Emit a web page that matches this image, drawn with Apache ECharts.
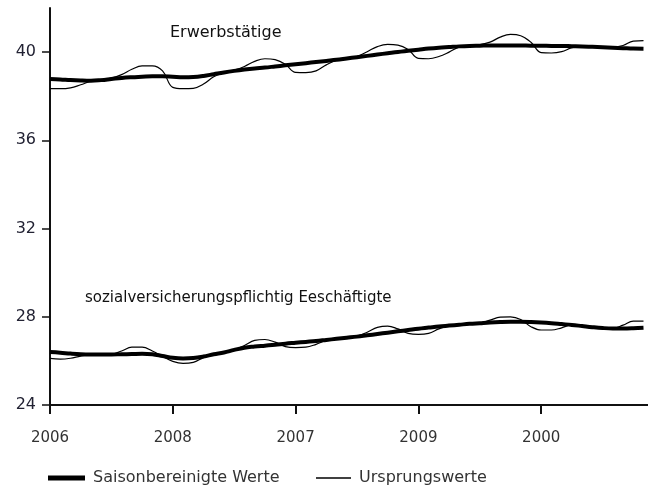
<!DOCTYPE html>
<html>
<head>
    <meta charset="utf-8">
    <title>Erwerbstätige</title>
    <script src="https://cdn.jsdelivr.net/npm/echarts@6/dist/echarts.min.js"></script>
    <style>
        body { margin: 0; background: #fff; }
    </style>
</head>
<body>
<div id="main" style="width: 648px;height:492px;"></div>
<script type="text/javascript">
    // tick labels as printed on the x axis (one per year)
    var yearLabels = ['2006', '2008', '2007', '2009', '2000'];
    var yTicks = [24, 28, 32, 36, 40];

    // monthly values, Erwerbstätige (Mio.)
    var erwSaison = [38.78, 38.76, 38.73, 38.71, 38.70, 38.73, 38.78, 38.83, 38.86, 38.88, 38.90, 38.90,
        38.88, 38.86, 38.87, 38.92, 39.00, 39.08, 39.15, 39.21, 39.26, 39.30, 39.35, 39.40,
        39.45, 39.50, 39.55, 39.60, 39.65, 39.71, 39.77, 39.83, 39.89, 39.95, 40.01, 40.06,
        40.11, 40.16, 40.20, 40.23, 40.26, 40.28, 40.29, 40.30, 40.30, 40.30, 40.30, 40.29,
        40.29, 40.28, 40.28, 40.27, 40.26, 40.24, 40.22, 40.20, 40.18, 40.16, 40.15];
    var erwUrsprung = [38.34, 38.34, 38.38, 38.52, 38.68, 38.76, 38.82, 38.98, 39.22, 39.38, 39.38, 39.15,
        38.40, 38.34, 38.36, 38.55, 38.88, 39.06, 39.18, 39.35, 39.58, 39.70, 39.66, 39.45,
        39.08, 39.07, 39.15, 39.42, 39.63, 39.72, 39.80, 40.02, 40.25, 40.35, 40.32, 40.12,
        39.72, 39.70, 39.80, 40.00, 40.24, 40.30, 40.34, 40.45, 40.68, 40.80, 40.74, 40.45,
        39.98, 39.96, 40.02, 40.20, 40.27, 40.26, 40.24, 40.24, 40.30, 40.50, 40.52];

    // monthly values, sozialversicherungspflichtig Beschäftigte (Mio.)
    var svbSaison = [26.40, 26.37, 26.33, 26.30, 26.29, 26.29, 26.29, 26.30, 26.31, 26.32, 26.30, 26.22,
        26.14, 26.11, 26.13, 26.20, 26.30, 26.38, 26.50, 26.60, 26.65, 26.69, 26.73, 26.78,
        26.82, 26.86, 26.90, 26.95, 27.00, 27.05, 27.10, 27.16, 27.22, 27.28, 27.34, 27.40,
        27.46, 27.51, 27.56, 27.60, 27.64, 27.68, 27.71, 27.74, 27.76, 27.77, 27.77, 27.76,
        27.74, 27.71, 27.67, 27.63, 27.58, 27.53, 27.49, 27.47, 27.47, 27.48, 27.50];
    var svbUrsprung = [26.11, 26.08, 26.12, 26.22, 26.28, 26.29, 26.30, 26.45, 26.62, 26.62, 26.45, 26.20,
        25.98, 25.89, 25.93, 26.15, 26.30, 26.38, 26.50, 26.70, 26.93, 26.97, 26.85, 26.65,
        26.60, 26.62, 26.75, 26.93, 27.00, 27.05, 27.12, 27.30, 27.52, 27.58, 27.45, 27.25,
        27.20, 27.25, 27.45, 27.60, 27.64, 27.68, 27.72, 27.85, 27.98, 28.00, 27.88, 27.55,
        27.40, 27.40, 27.50, 27.63, 27.58, 27.53, 27.49, 27.48, 27.62, 27.80, 27.80];

    // month index -> position in years on the x axis
    function monthly(values) {
        return values.map(function (v, i) {
            return [i / 12, v];
        });
    }

    var font = 'DejaVu Sans, Liberation Sans, sans-serif';

    function lineSeries(name, values, width) {
        return {
            name: name,
            type: 'line',
            data: monthly(values),
            smooth: 0.4,
            symbol: 'none',
            lineStyle: { color: '#000', width: width },
            itemStyle: { color: '#000' },
            emphasis: { disabled: true }
        };
    }

    var legendText = { fontSize: 16, fontFamily: font, color: '#333', padding: [0, 0, 0, 3] };

    var myChart = echarts.init(document.getElementById('main'), null, { renderer: 'canvas' });

    myChart.setOption({
        animation: false,
        backgroundColor: '#fff',
        grid: { left: 50, right: 0, top: 8, bottom: 87 },
        xAxis: {
            type: 'value',
            min: 0,
            max: 4.87,
            interval: 1,
            splitLine: { show: false },
            axisLine: { onZero: false, lineStyle: { color: '#111', width: 2 } },
            axisTick: { length: 9, lineStyle: { color: '#111', width: 2 } },
            axisLabel: {
                margin: 26,
                fontSize: 15,
                fontFamily: font,
                color: '#333',
                showMaxLabel: false,
                formatter: function (v) {
                    return yearLabels[Math.round(v)] || '';
                }
            }
        },
        yAxis: {
            type: 'value',
            min: 24,
            max: 42,
            interval: 4,
            splitLine: { show: false },
            axisLine: { show: true, lineStyle: { color: '#111', width: 2 } },
            axisTick: { show: true, length: 8, customValues: yTicks, lineStyle: { color: '#111', width: 1.5 } },
            axisLabel: {
                margin: 14,
                fontSize: 16,
                fontFamily: font,
                color: '#223',
                customValues: yTicks
            }
        },
        legend: [
            {
                top: 465,
                left: 43,
                icon: 'rect',
                itemWidth: 37,
                itemHeight: 5,
                textStyle: legendText,
                data: ['Saisonbereinigte Werte']
            },
            {
                top: 465,
                left: 311,
                icon: 'rect',
                itemWidth: 35,
                itemHeight: 1.5,
                textStyle: legendText,
                data: ['Ursprungswerte']
            }
        ],
        graphic: [
            {
                type: 'text',
                left: 170,
                top: 25,
                style: { text: 'Erwerbstätige', fontSize: 16, fontFamily: font, fill: '#111' }
            },
            {
                type: 'text',
                left: 85,
                top: 291,
                style: { text: 'sozialversicherungspflichtig Eeschäftigte', fontSize: 15, fontFamily: font, fill: '#111' }
            }
        ],
        series: [
            lineSeries('Ursprungswerte', erwUrsprung, 1.2),
            lineSeries('Ursprungswerte', svbUrsprung, 1.2),
            lineSeries('Saisonbereinigte Werte', erwSaison, 4),
            lineSeries('Saisonbereinigte Werte', svbSaison, 4)
        ]
    });
</script>
</body>
</html>
